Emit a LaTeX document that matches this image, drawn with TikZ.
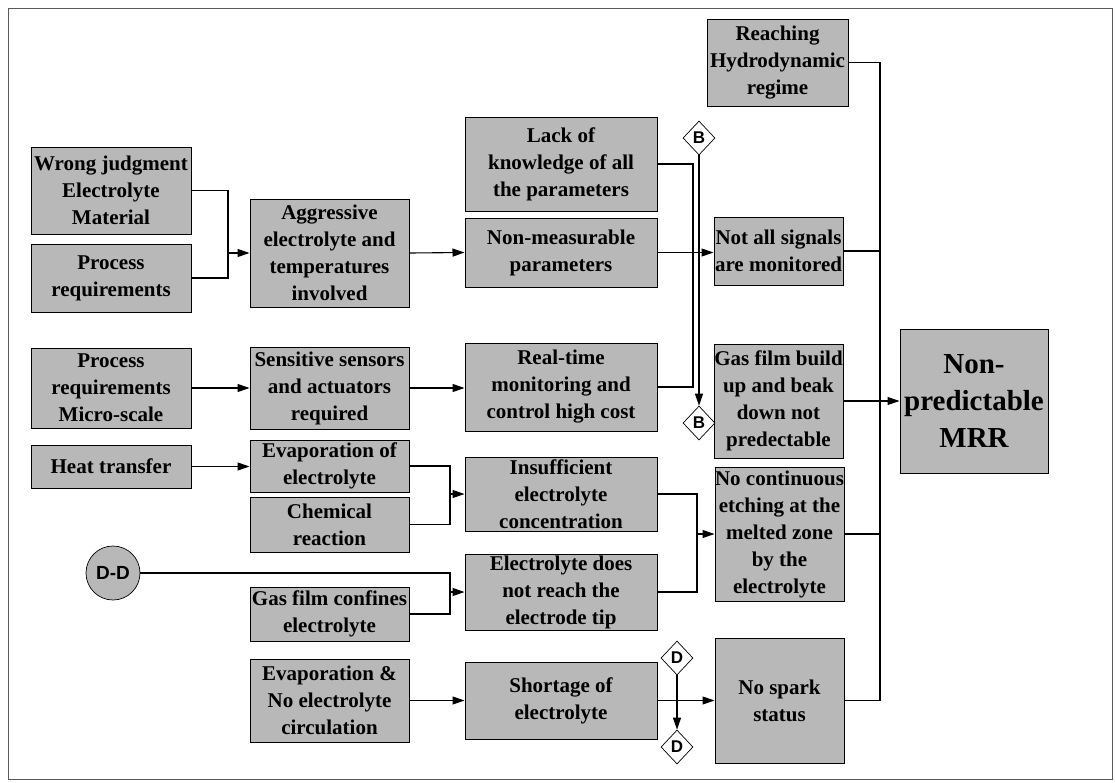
\documentclass[tikz,border=0pt]{standalone}
\usepackage{fontspec}
\setmainfont{Liberation Serif}
\newfontfamily\lsans{Liberation Sans}
\usetikzlibrary{shapes.geometric,arrows.meta}
\definecolor{boxgray}{gray}{0.72}
\begin{document}
\begin{tikzpicture}[x=1pt,y=-1pt,
  box/.style={draw=black, line width=1pt, fill=boxgray, inner sep=0pt, align=center,
    font=\fontsize{21}{27}\selectfont\bfseries},
  bigbox/.style={box, font=\fontsize{29}{37}\selectfont\bfseries},
  conn/.style={draw=black, line width=1.1pt},
  arr/.style={conn, -{Triangle[length=12pt,width=8pt]}},
  dia/.style={diamond, draw=black, line width=0.7pt, fill=white, inner sep=0pt,
    minimum width=32pt, minimum height=34pt, font=\lsans\bfseries\fontsize{17}{17}\selectfont},
  ddcirc/.style={circle, draw=black, line width=0.7pt, fill=boxgray, inner sep=0pt,
    minimum size=54pt, font=\lsans\bfseries\fontsize{19}{19}\selectfont}
]
\useasboundingbox (0,0) rectangle (1115,782);
\draw[gray!70!black, line width=0.8pt] (8,8) rectangle (1112,779);

\newcommand\bx[6]{\node[box, minimum width=#4pt, minimum height=#5pt] (#1) at (#2,#3) {#6};}

\bx{wj}{111}{190.5}{160}{87}{Wrong judgment\\Electrolyte\\Material}
\bx{pra}{111}{278}{160}{68}{Process\\requirements}
\bx{agg}{329.5}{253}{159}{108}{Aggressive\\electrolyte and\\temperatures\\involved}
\bx{lack}{561}{164}{192}{94}{Lack of\\knowledge of all\\the parameters}
\bx{nonm}{561}{252.5}{192}{69}{Non-measurable\\parameters}
\bx{reach}{777.5}{62.5}{141}{87}{Reaching\\Hydrodynamic\\regime}
\bx{notall}{778.5}{251}{129}{68}{Not all signals\\are monitored}
\node[bigbox, minimum width=148pt, minimum height=144pt] (mrr) at (974,401) {Non-\\predictable\\MRR};
\bx{gasb}{778.5}{401}{129}{114}{Gas film build\\up and beak\\down not\\predectable}
\bx{prm}{111}{388}{160}{80}{Process\\requirements\\Micro-scale}
\bx{sens}{329.5}{388}{159}{82}{Sensitive sensors\\and actuators\\required}
\bx{real}{561}{387}{192}{88}{Real-time\\monitoring and\\control high cost}
\bx{heat}{111}{466.5}{160}{43}{Heat transfer}
\bx{evap}{329.5}{466}{159}{52}{Evaporation of\\electrolyte}
\bx{chem}{329.5}{524.5}{159}{55}{Chemical\\reaction}
\bx{insuf}{561}{494}{192}{74}{Insufficient\\electrolyte\\concentration}
\bx{nocont}{779.5}{534}{129}{134}{No continuous\\etching at the\\melted zone\\by the\\electrolyte}
\bx{gasc}{329.5}{614}{159}{54}{Gas film confines\\electrolyte}
\bx{elnot}{561}{592}{192}{76}{Electrolyte does\\not reach the\\electrode tip}
\bx{evno}{329.5}{700.5}{159}{83}{Evaporation \&\\No electrolyte\\circulation}
\bx{short}{561}{700.5}{192}{77}{Shortage of\\electrolyte}
\bx{nospark}{779.5}{700.5}{129}{125}{No spark\\status}

\node[ddcirc] (dd) at (113,573) {D-D};
\node[dia] (b1) at (699,138) {B};
\node[dia] (b2) at (699,423) {B};
\node[dia] (d1) at (677,658) {D};
\node[dia] (d2) at (677,747) {D};

% junctions
\coordinate (j1) at (228,253);
\coordinate (j2) at (693,252.5);
\coordinate (j3) at (450,494);
\coordinate (j4) at (450,592);
\coordinate (j5) at (697,534);
\coordinate (bus) at (880,700.5);

\draw[conn] (wj.east) -| (j1) |- (pra.east);
\draw[arr] (j1) -- (agg.west);
\draw[arr] (agg.east) -- (nonm.west);
\draw[conn] (lack.east) -| (j2) |- (real.east);
\draw[arr] (nonm.east) -- (nonm.east -| notall.west);
\draw[arr] (b1.south) -- (b2.north);
\draw[arr] (prm.east) -- (sens.west);
\draw[arr] (sens.east) -- (sens.east -| real.west);
\draw[arr] (heat.east) -- (heat.east -| evap.west);
\draw[conn] (evap.east) -| (j3) |- (chem.east);
\draw[arr] (j3) -- (insuf.west);
\draw[conn] (dd.east) -| (j4) |- (gasc.east);
\draw[arr] (j4) -- (elnot.west);
\draw[conn] (insuf.east) -| (j5) |- (elnot.east);
\draw[arr] (j5) -- (nocont.west);
\draw[arr] (evno.east) -- (short.west);
\draw[arr] (short.east) -- (nospark.west);
\draw[arr] (d1.south) -- (d2.north);
\draw[conn] (reach.east) -| (bus) -- (nospark.east);
\draw[conn] (notall.east) -- (notall.east -| bus);
\draw[conn] (nocont.east) -- (nocont.east -| bus);
\draw[arr] (gasb.east) -- (mrr.west);
\end{tikzpicture}
\end{document}
